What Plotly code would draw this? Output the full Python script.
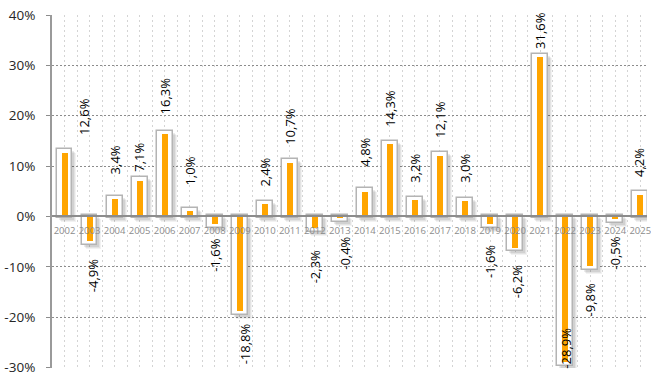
import plotly.graph_objects as go

# Year-over-year change, in percent
years = list(range(2002, 2026))
changes = [12.6, -4.9, 3.4, 7.1, 16.3, 1.0, -1.6, -18.8, 2.4, 10.7, -2.3, -0.4,
           4.8, 14.3, 3.2, 12.1, 3.0, -1.6, -6.2, 31.6, -28.9, -9.8, -0.5, 4.2]
y_tick_values = [-30, -20, -10, 0, 10, 20, 30, 40]
y_tick_labels = ["-30%", "-20%", "-10%", "0%", "10%", "20%", "30%", "40%"]

W, H = 651, 376
M_L, M_R, M_T, M_B = 52, 0, 15, 7
Y_MIN, Y_MAX = -30, 40
Y_LO = Y_MIN - 0.1                               # keeps the bottom gridline visible
CAT_PX = 25.2                                    # pixels per category
PX_PER_PCT = (H - M_T - M_B) / (Y_MAX - Y_LO)    # pixels per percent
x_end = -0.5 + (W - M_L - M_R) / CAT_PX

idx = list(range(len(years)))
BOX_W = 16 / CAT_PX
BAR_W = 6 / CAT_PX
END_PAD = 3.8 / PX_PER_PCT
BASE_PAD = 1.5 / PX_PER_PCT


def sgn(v):
    return 1 if v >= 0 else -1


box_base = [-sgn(v) * BASE_PAD for v in changes]
box_len = [v + sgn(v) * END_PAD - b for v, b in zip(changes, box_base)]

fig = go.Figure()

# soft drop shadow behind the framed boxes
for k, alpha in [(4, 0.05), (3, 0.06), (2, 0.08)]:
    dx = k / CAT_PX
    dy = k / PX_PER_PCT
    fig.add_trace(go.Bar(
        x=idx, y=box_len, base=[b - dy for b in box_base],
        width=BOX_W, offset=-BOX_W / 2 + dx,
        marker=dict(color=f"rgba(0,0,0,{alpha})", line=dict(width=0)),
        hoverinfo="skip", showlegend=False,
    ))

# white framed box
fig.add_trace(go.Bar(
    x=idx, y=box_len, base=box_base,
    width=BOX_W, offset=-BOX_W / 2,
    marker=dict(color="white", line=dict(color="#B4B4B4", width=1.5)),
    hoverinfo="skip", showlegend=False,
))

# orange value bar
fig.add_trace(go.Bar(
    x=idx, y=changes, width=BAR_W, offset=-BAR_W / 2,
    marker=dict(color="#FFA500", line=dict(width=0)),
    customdata=years,
    hovertemplate="%{customdata}: %{y:.1f}%<extra></extra>",
    showlegend=False,
))

# rotated value labels; a few are nudged away from / toward their bar
label_dx = {2002: 20, 2009: 5, 2013: 5, 2020: 2, 2003: 3, 2025: -1}
label_dy = {2004: 7, 2005: -9, 2006: 2, 2007: 8, 2014: 8, 2021: -10,
            2008: -4, 2009: -6, 2012: 4, 2019: 3}
for i, (yr, v) in enumerate(zip(years, changes)):
    text = f"{v:.1f}".replace(".", ",") + "%"
    gap = 16 + label_dy.get(yr, 0)
    if v < Y_MIN + 5:
        # no room below the bar: keep the label inside, at the bottom
        ann = dict(y=Y_LO, yanchor="bottom", yshift=-3)
    elif v >= 0:
        ann = dict(y=v, yanchor="bottom", yshift=gap)
    else:
        ann = dict(y=v, yanchor="top", yshift=-gap)
    fig.add_annotation(
        x=i, text=text, textangle=-90, showarrow=False,
        xanchor="center", xshift=label_dx.get(yr, 0),
        font=dict(family="Open Sans", size=13, color="#000000"),
        **ann,
    )

fig.update_layout(
    width=W, height=H,
    margin=dict(l=M_L, r=M_R, t=M_T, b=M_B, pad=0),
    paper_bgcolor="white", plot_bgcolor="white",
    barmode="overlay", bargap=0,
    font=dict(family="Open Sans"),
    xaxis=dict(
        range=[-0.5, x_end],
        tickmode="array", tickvals=idx, ticktext=[str(y) for y in years],
        tickfont=dict(size=9.5, color="#8C8C8C"),
        ticks="", ticklabelstandoff=5, ticklabeloverflow="allow",
        anchor="free", position=(0 - Y_LO) / (Y_MAX - Y_LO),
        showline=True, linecolor="#8C8C8C", linewidth=2,
        showgrid=True, gridcolor="#D4D4D4", gridwidth=1, griddash="2px,3px",
        minor=dict(tickmode="array", tickvals=[i + 0.5 for i in idx],
                   showgrid=True, gridcolor="#D4D4D4", gridwidth=1,
                   griddash="2px,3px"),
        zeroline=False,
    ),
    yaxis=dict(
        range=[Y_LO, Y_MAX],
        tickmode="array", tickvals=y_tick_values, ticktext=y_tick_labels,
        tickfont=dict(size=13.5, color="#262626"),
        ticks="outside", ticklen=4, tickcolor="#8C8C8C", tickwidth=1,
        ticklabelstandoff=8, ticklabeloverflow="allow",
        showline=True, linecolor="#9A9A9A", linewidth=2,
        showgrid=True, gridcolor="#8C8C8C", gridwidth=1, griddash="2px,2px",
        zeroline=False,
    ),
)

fig.write_html("out.html")
